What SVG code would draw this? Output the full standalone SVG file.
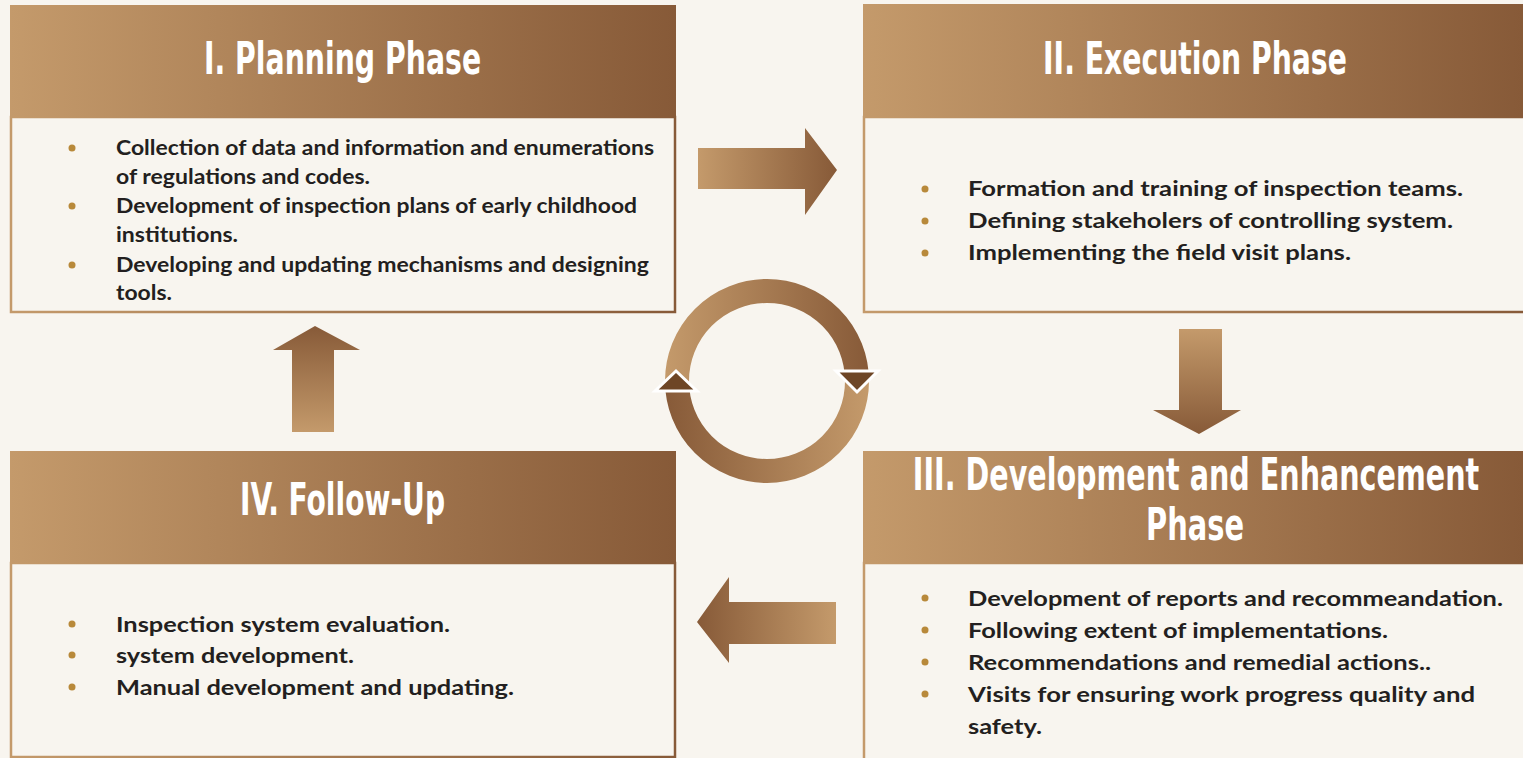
<svg xmlns="http://www.w3.org/2000/svg" width="1523" height="758" viewBox="0 0 1523 758">
  <defs>
    <linearGradient id="bronzeH" x1="0" y1="0" x2="1" y2="0">
      <stop offset="0" stop-color="#c49a6b"/>
      <stop offset="1" stop-color="#875a38"/>
    </linearGradient>
    <linearGradient id="bronzeHRev" x1="0" y1="0" x2="1" y2="0">
      <stop offset="0" stop-color="#875a38"/>
      <stop offset="1" stop-color="#c49a6b"/>
    </linearGradient>
    <linearGradient id="bronzeV" x1="0" y1="0" x2="0" y2="1">
      <stop offset="0" stop-color="#c49a6b"/>
      <stop offset="1" stop-color="#875a38"/>
    </linearGradient>
    <linearGradient id="bronzeVRev" x1="0" y1="0" x2="0" y2="1">
      <stop offset="0" stop-color="#875a38"/>
      <stop offset="1" stop-color="#c49a6b"/>
    </linearGradient>
    <linearGradient id="ringTop" gradientUnits="userSpaceOnUse" x1="665" y1="0" x2="869" y2="0">
      <stop offset="0" stop-color="#c49a6b"/>
      <stop offset="1" stop-color="#875a38"/>
    </linearGradient>
    <linearGradient id="ringBottom" gradientUnits="userSpaceOnUse" x1="665" y1="0" x2="869" y2="0">
      <stop offset="0" stop-color="#875a38"/>
      <stop offset="1" stop-color="#c49a6b"/>
    </linearGradient>
  </defs>
  <style>
    .header { fill: url(#bronzeH); }
    .body { fill: #f8f5ef; stroke: url(#bronzeH); stroke-width: 2.5; }
    .title { font-family: "DejaVu Sans Condensed", "Liberation Sans Narrow", "Liberation Sans", sans-serif; font-stretch: condensed; font-weight: bold; font-size: 44px; fill: #ffffff; text-anchor: middle; }
    .item { font-family: Lato, "Open Sans", "Liberation Sans", sans-serif; font-weight: bold; font-size: 20px; fill: #231f20; }
    .dot { fill: #b8893a; }
    .tri { fill: #6e4626; stroke: #ffffff; stroke-width: 3; stroke-linejoin: miter; }
  </style>

  <rect width="1523" height="758" fill="#f8f5ef"/>

  <!-- Phase I -->
  <g id="planning">
    <rect class="body" x="11" y="117" width="664" height="195"/>
    <rect class="header" x="10" y="5" width="666" height="112"/>
    <text class="title" transform="translate(342.5,74) scale(0.7,1)" textLength="396" lengthAdjust="spacingAndGlyphs">I. Planning Phase</text>
    <circle class="dot" cx="72" cy="148" r="3.5"/>
    <circle class="dot" cx="72" cy="206" r="3.5"/>
    <circle class="dot" cx="72" cy="265" r="3.5"/>
    <text class="item" x="116" y="155" textLength="538" lengthAdjust="spacingAndGlyphs">Collection of data and information and enumerations</text>
    <text class="item" x="116" y="184" textLength="254" lengthAdjust="spacingAndGlyphs">of regulations and codes.</text>
    <text class="item" x="116" y="213" textLength="521" lengthAdjust="spacingAndGlyphs">Development of inspection plans of early childhood</text>
    <text class="item" x="116" y="242" textLength="122" lengthAdjust="spacingAndGlyphs">institutions.</text>
    <text class="item" x="116" y="272" textLength="533" lengthAdjust="spacingAndGlyphs">Developing and updating mechanisms and designing</text>
    <text class="item" x="116" y="300" textLength="56" lengthAdjust="spacingAndGlyphs">tools.</text>
  </g>

  <!-- Phase II -->
  <g id="execution">
    <rect class="body" x="864" y="117" width="668" height="195"/>
    <rect class="header" x="863" y="4" width="660" height="113"/>
    <text class="title" transform="translate(1195,74) scale(0.7,1)" textLength="434" lengthAdjust="spacingAndGlyphs">II. Execution Phase</text>
    <circle class="dot" cx="925" cy="189" r="3.5"/>
    <circle class="dot" cx="925" cy="221" r="3.5"/>
    <circle class="dot" cx="925" cy="253" r="3.5"/>
    <text class="item" x="968" y="196" textLength="495" lengthAdjust="spacingAndGlyphs">Formation and training of inspection teams.</text>
    <text class="item" x="968" y="228" textLength="485" lengthAdjust="spacingAndGlyphs">Defining stakeholers of controlling system.</text>
    <text class="item" x="968" y="260" textLength="383" lengthAdjust="spacingAndGlyphs">Implementing the field visit plans.</text>
  </g>

  <!-- Phase III -->
  <g id="development">
    <rect class="body" x="864" y="563" width="668" height="205"/>
    <rect class="header" x="863" y="451" width="660" height="112"/>
    <text class="title" transform="translate(1196,490) scale(0.7,1)" textLength="809" lengthAdjust="spacingAndGlyphs">III. Development and Enhancement</text>
    <text class="title" transform="translate(1195,540) scale(0.7,1)" textLength="140" lengthAdjust="spacingAndGlyphs">Phase</text>
    <circle class="dot" cx="925" cy="598" r="3.5"/>
    <circle class="dot" cx="925" cy="630" r="3.5"/>
    <circle class="dot" cx="925" cy="662" r="3.5"/>
    <circle class="dot" cx="925" cy="694" r="3.5"/>
    <text class="item" x="968" y="606" textLength="535" lengthAdjust="spacingAndGlyphs">Development of reports and recommeandation.</text>
    <text class="item" x="968" y="638" textLength="420" lengthAdjust="spacingAndGlyphs">Following extent of implementations.</text>
    <text class="item" x="968" y="670" textLength="463" lengthAdjust="spacingAndGlyphs">Recommendations and remedial actions..</text>
    <text class="item" x="968" y="702" textLength="507" lengthAdjust="spacingAndGlyphs">Visits for ensuring work progress quality and</text>
    <text class="item" x="968" y="734" textLength="74" lengthAdjust="spacingAndGlyphs">safety.</text>
  </g>

  <!-- Phase IV -->
  <g id="followup">
    <rect class="body" x="11" y="563" width="664" height="194"/>
    <rect class="header" x="10" y="451" width="666" height="112"/>
    <text class="title" transform="translate(342.5,515) scale(0.7,1)" textLength="293" lengthAdjust="spacingAndGlyphs">IV. Follow-Up</text>
    <circle class="dot" cx="72" cy="624" r="3.5"/>
    <circle class="dot" cx="72" cy="655" r="3.5"/>
    <circle class="dot" cx="72" cy="687" r="3.5"/>
    <text class="item" x="116" y="632" textLength="334" lengthAdjust="spacingAndGlyphs">Inspection system evaluation.</text>
    <text class="item" x="116" y="663" textLength="238" lengthAdjust="spacingAndGlyphs">system development.</text>
    <text class="item" x="116" y="695" textLength="398" lengthAdjust="spacingAndGlyphs">Manual development and updating.</text>
  </g>

  <!-- Block arrows between phases and the central cycle ring -->
  <g id="connectors">
    <path d="M698,148 L805,148 L805,128 L837,170 L805,215 L805,189 L698,189 Z" fill="url(#bronzeH)"/>
    <path d="M1179,329 L1222,329 L1222,410 L1241,410 L1199,434 L1153,410 L1179,410 Z" fill="url(#bronzeV)"/>
    <path d="M836,602 L729,602 L729,577 L697,622 L729,663 L729,644 L836,644 Z" fill="url(#bronzeHRev)"/>
    <path d="M292,432 L334,432 L334,350 L360,350 L315,326 L273,350 L292,350 Z" fill="url(#bronzeVRev)"/>

    <path d="M677,381 A90,90 0 0 1 857,381" fill="none" stroke="url(#ringTop)" stroke-width="24"/>
    <path d="M857,381 A90,90 0 0 1 677,381" fill="none" stroke="url(#ringBottom)" stroke-width="24"/>
    <path class="tri" d="M676,371 L697,391 L655,391 Z"/>
    <path class="tri" d="M836,371 L878,371 L857,392 Z"/>
  </g>
</svg>
